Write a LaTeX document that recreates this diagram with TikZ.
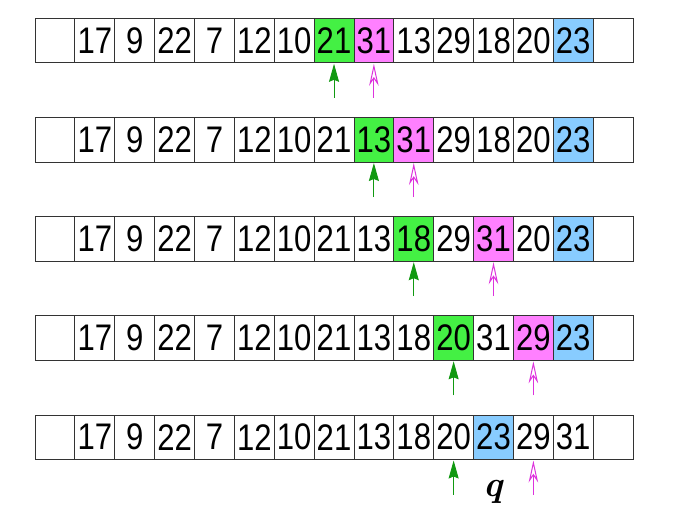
\documentclass[tikz,border=0pt]{standalone}
\usepackage{fontspec}
\newfontfamily\numfont[FakeStretch=0.84]{Liberation Sans}
\usetikzlibrary{arrows.meta,calc}
\definecolor{cgreen}{HTML}{44F044}
\definecolor{cmag}{HTML}{FF80FF}
\definecolor{cblue}{HTML}{88CCFF}
\definecolor{agreen}{HTML}{119911}
\definecolor{amag}{HTML}{DD33DD}
\definecolor{cline}{HTML}{333333}
\tikzset{
  cellbox/.style={draw=cline, line width=0.9pt, minimum width=39.87pt, minimum height=44.5pt,
    inner sep=0pt, outer sep=0pt, font=\numfont\fontsize{37}{37}\selectfont},
  garrow/.style={draw=agreen, line width=1pt, -{Stealth[length=18pt,width=10pt,inset=2pt]}},
  marrow/.style={draw=amag, line width=1pt, -{Stealth[open,length=22pt,width=9.5pt,inset=7pt]}},
}
% #1 row, #2 top y, #3 green idx, #4 magenta idx, #5 blue idx, #6 values
\newcommand\cellrow[6]{%
  \foreach \v [count=\c from 0] in {#6} {%
    \ifnum\c=#3 \def\cf{cgreen}\else\ifnum\c=#4 \def\cf{cmag}\else\ifnum\c=#5 \def\cf{cblue}\else\def\cf{white}\fi\fi\fi
    \node[cellbox, fill=\cf] (r#1c\c) at ({35+(\c+0.5)*39.87}, {#2+22.25}) {\v};
  }%
}
\begin{document}
\begin{tikzpicture}[x=1pt,y=-1pt]
\useasboundingbox (0,0) rectangle (675,516);
\cellrow{1}{18.3}{7}{8}{13}{{},17,9,22,7,12,10,21,31,13,29,18,20,23,{}}
\cellrow{2}{117.5}{8}{9}{13}{{},17,9,22,7,12,10,21,13,31,29,18,20,23,{}}
\cellrow{3}{216.7}{9}{11}{13}{{},17,9,22,7,12,10,21,13,18,29,31,20,23,{}}
\cellrow{4}{315.8}{10}{12}{13}{{},17,9,22,7,12,10,21,13,18,20,31,29,23,{}}
\cellrow{5}{415}{-1}{-1}{11}{{},17,9,22,7,12,10,21,13,18,20,23,29,31,{}}
% pointer arrows
\coordinate (g1) at ($(r1c7.south)+(0,35)$);
\coordinate (m1) at ($(r1c8.south)+(0,35)$);
\coordinate (g2) at ($(r2c8.south)+(0,35)$);
\coordinate (m2) at ($(r2c9.south)+(0,35)$);
\coordinate (g3) at ($(r3c9.south)+(0,35)$);
\coordinate (m3) at ($(r3c11.south)+(0,35)$);
\coordinate (g4) at ($(r4c10.south)+(0,35)$);
\coordinate (m4) at ($(r4c12.south)+(0,35)$);
\coordinate (g5) at ($(r5c10.south)+(0,35)$);
\coordinate (m5) at ($(r5c12.south)+(0,35)$);
\foreach \i in {1,...,5} {
  \draw[garrow] (g\i) -- ($(g\i)+(0,-34)$);
  \draw[marrow] (m\i) -- ($(m\i)+(0,-34)$);
}
\node[inner sep=0pt] (q) at ($(r5c11.south)+(0,32)$) {\fontsize{36}{36}\selectfont\bfseries\itshape q};
\end{tikzpicture}
\end{document}
